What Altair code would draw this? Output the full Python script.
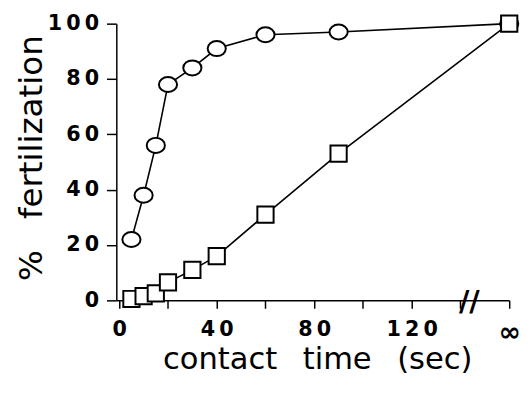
import altair as alt
import pandas as pd

# contact time (s); 160 stands for "infinite" contact time
times = [5, 10, 15, 20, 30, 40, 60, 90, 160]
circle_vals = [22, 38, 56, 78, 84, 91, 96, 97, 100]
square_vals = [0.5, 1.5, 2.5, 6.5, 11, 16, 31, 53, 100]
x_ticks = [0, 20, 40, 60, 80, 100, 120, 140, 160]
y_ticks = [0, 10, 20, 30, 40, 50, 60, 70, 80, 90, 100]
break_x = [140]

df_c = pd.DataFrame({"t": times, "v": circle_vals, "s": "circle"})
df_s = pd.DataFrame({"t": times, "v": square_vals, "s": "square"})
df = pd.concat([df_c, df_s], ignore_index=True)
df_break = pd.DataFrame({"t": break_x, "v": [0]})

THIN = "\u2009"
NB = "\u00a0"
x_label_expr = (
    "datum.value == 160 ? '\u221e' : (datum.value % 40 == 0 ? "
    f"join(split(datum.label, ''), '{THIN}') : '')"
)
y_label_expr = f"datum.value % 20 == 0 ? join(split(datum.label, ''), '{THIN}') : ''"

x_title = f"contact{NB}{NB}{THIN}time{NB}{NB}{THIN}(sec)"
y_title = f"%{NB}{NB}{NB}fertilization"

x_enc = alt.X(
    "t:Q",
    scale=alt.Scale(domain=[-1.2, 160], nice=False, zero=False),
    axis=alt.Axis(
        values=x_ticks,
        labelExpr=x_label_expr,
        labelFlush=False,
        title=x_title,
        tickSize=8,
        labelPadding=alt.condition("datum.value == 160", alt.value(12), alt.value(11)),
        labelFontSize=alt.condition("datum.value == 160", alt.value(27), alt.value(21)),
        titleFontSize=31,
        titleBaseline="alphabetic",
        titleX=204,
        titleY=69,
    ),
)
y_enc = alt.Y(
    "v:Q",
    scale=alt.Scale(domain=[0, 100], nice=False),
    axis=alt.Axis(
        values=y_ticks,
        labelExpr=y_label_expr,
        title=y_title,
        tickSize=alt.condition("datum.value % 20 == 0", alt.value(10), alt.value(4)),
        labelPadding=8,
        titleFontSize=33,
        titleBaseline="alphabetic",
        titleAngle=270,
        titleAlign="center",
        titleX=-76,
        titleY=136,
    ),
)

lines = alt.Chart(df).mark_line(color="black", strokeWidth=1.6).encode(
    x=x_enc, y=y_enc, detail="s:N"
)

ellipse = "M -1 0 A 1 0.83 0 1 0 1 0 A 1 0.83 0 1 0 -1 0 Z"
circles = alt.Chart(df_c).mark_point(
    shape=ellipse, size=340, filled=True, fill="white", stroke="black", strokeWidth=2, opacity=1
).encode(x="t:Q", y="v:Q")
squares = alt.Chart(df_s).mark_point(
    shape="square", size=272, filled=True, fill="white", stroke="black", strokeWidth=2, opacity=1
).encode(x="t:Q", y="v:Q")

brk = alt.Chart(df_break).mark_text(
    text="//", font="DejaVu Sans", fontSize=29, fontWeight="bold", color="black",
    baseline="middle", align="center", dx=9, dy=2
).encode(x="t:Q", y="v:Q")

chart = (
    alt.layer(lines, circles, squares, brk)
    .properties(
        width=399,
        height=281,
        autosize=alt.AutoSizeParams(type="none"),
        padding={"left": 110, "top": 13, "right": 14, "bottom": 80},
    )
    .configure_view(stroke=None)
    .configure_axis(
        grid=False,
        domainColor="black",
        domainWidth=1.5,
        tickColor="black",
        tickWidth=1.5,
        labelFont="DejaVu Sans",
        labelFontWeight="bold",
        labelFontSize=21,
        labelColor="black",
        titleFont="DejaVu Sans",
        titleFontWeight="normal",
        titleColor="black",
    )
)

chart.save("out.html", embed_options={"renderer": "svg", "actions": False})
